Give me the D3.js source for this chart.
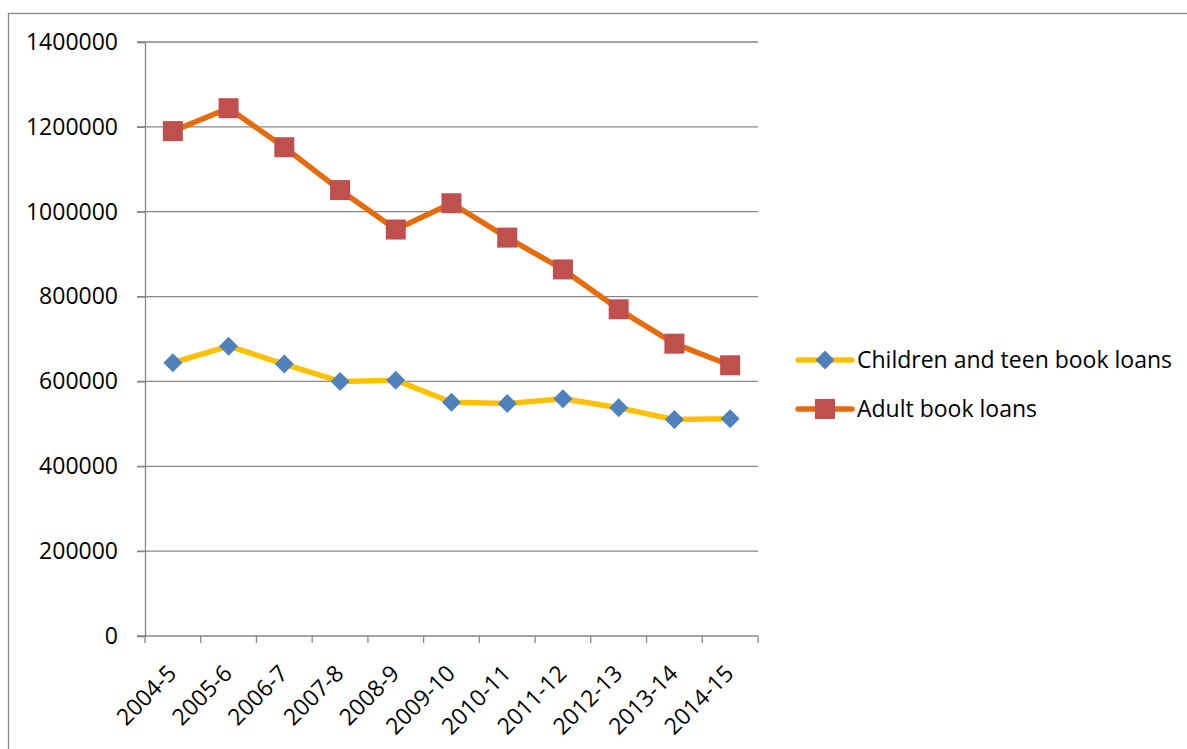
<!DOCTYPE html>
<html>
<head>
<meta charset="utf-8">
<script src="https://cdn.jsdelivr.net/npm/d3@7/dist/d3.min.js"></script>
<style>
  html, body { margin: 0; padding: 0; background: #fff; }
  svg { display: block; }
  text { font-family: "Open Sans", "Noto Sans", "Liberation Sans", sans-serif; fill: #000; }
</style>
</head>
<body>
<svg id="chart" width="1187" height="749"></svg>
<script>
// Library book loans by year
const years = ["2004-5", "2005-6", "2006-7", "2007-8", "2008-9", "2009-10",
               "2010-11", "2011-12", "2012-13", "2013-14", "2014-15"];
const childrenLoans = [644000, 683000, 641000, 600000, 603000, 551000,
                       548000, 559000, 538000, 510000, 512000];
const adultLoans = [1190000, 1244000, 1152000, 1051000, 958000, 1020000,
                    939000, 864000, 770000, 689000, 638000];
const yTicks = [0, 200000, 400000, 600000, 800000, 1000000, 1200000, 1400000];
const seriesNames = ["Children and teen book loans", "Adult book loans"];

const svg = d3.select("#chart");
const gridColor = "#878787";
const fontSize = 23;

const plot = { left: 145, right: 758, top: 42, bottom: 636 };

const x = d3.scaleBand().domain(years).range([plot.left, plot.right]).padding(0);
const y = d3.scaleLinear().domain([0, 1400000]).range([plot.bottom, plot.top]);
const cx = d => x(d) + x.bandwidth() / 2;

// outer frame (runs off the right and bottom edges)
svg.append("rect")
  .attr("x", 8.5).attr("y", 13.5)
  .attr("width", 1300).attr("height", 900)
  .attr("fill", "none").attr("stroke", gridColor).attr("stroke-width", 1.3);

// horizontal gridlines with left tick stubs
svg.append("g").selectAll("line")
  .data(yTicks.filter(t => t > 0))
  .join("line")
  .attr("x1", plot.left - 8).attr("x2", plot.right)
  .attr("y1", d => y(d)).attr("y2", d => y(d))
  .attr("stroke", gridColor).attr("stroke-width", 1.3);

// y axis
const yAxis = d3.axisLeft(y).tickValues(yTicks).tickSize(8).tickPadding(19)
  .tickFormat(d3.format("d"));
const gy = svg.append("g").attr("transform", `translate(${plot.left},0)`).call(yAxis);
gy.select(".domain").attr("stroke", gridColor).attr("stroke-width", 1.3);
gy.selectAll(".tick line").attr("stroke", gridColor).attr("stroke-width", 1.3);
gy.selectAll(".tick text").attr("font-size", fontSize)
  .attr("font-family", "'Open Sans', sans-serif").attr("fill", "#000");

// x axis line with category boundary ticks
const gx = svg.append("g");
gx.append("line")
  .attr("x1", plot.left - 8).attr("x2", plot.right)
  .attr("y1", plot.bottom).attr("y2", plot.bottom)
  .attr("stroke", gridColor).attr("stroke-width", 1.3);
const boundaries = years.map(d => x(d)).concat([x(years[years.length - 1]) + x.bandwidth()]);
gx.selectAll("line.tick")
  .data(boundaries)
  .join("line")
  .attr("class", "tick")
  .attr("x1", d => d).attr("x2", d => d)
  .attr("y1", plot.bottom).attr("y2", plot.bottom + 7)
  .attr("stroke", gridColor).attr("stroke-width", 1.3);
gx.selectAll("text")
  .data(years)
  .join("text")
  .attr("transform", d => `translate(${cx(d) + 5},${plot.bottom + 39}) rotate(-45)`)
  .attr("text-anchor", "end")
  .attr("font-size", fontSize)
  .text(d => d);

// series lines
const line = d3.line().x((d, i) => cx(years[i])).y(d => y(d));
const diamond = "M0,-9.5L9.5,0L0,9.5L-9.5,0Z";

const series = [
  { name: seriesNames[0], values: childrenLoans, lineColor: "#FFC000", markerColor: "#4F81BD", marker: "diamond" },
  { name: seriesNames[1], values: adultLoans, lineColor: "#E46C0A", markerColor: "#C0504D", marker: "square" }
];

function drawMarker(sel, s) {
  if (s.marker === "diamond") {
    sel.append("path").attr("d", diamond).attr("fill", s.markerColor);
  } else {
    sel.append("rect").attr("x", -10).attr("y", -10).attr("width", 20).attr("height", 20)
      .attr("fill", s.markerColor);
  }
}

series.forEach(s => {
  svg.append("path")
    .datum(s.values)
    .attr("d", line)
    .attr("fill", "none")
    .attr("stroke", s.lineColor)
    .attr("stroke-width", 5.5)
    .attr("stroke-linejoin", "round")
    .attr("stroke-linecap", "round");
  const g = svg.append("g");
  s.values.forEach((v, i) => {
    const m = g.append("g").attr("transform", `translate(${cx(years[i])},${y(v)})`);
    drawMarker(m, s);
  });
});

// legend
const legendRows = [360, 409];
series.forEach((s, i) => {
  const g = svg.append("g").attr("transform", `translate(0,${legendRows[i]})`);
  g.append("line").attr("x1", 798).attr("x2", 852).attr("y1", 0).attr("y2", 0)
    .attr("stroke", s.lineColor).attr("stroke-width", 5.5).attr("stroke-linecap", "round");
  const m = g.append("g").attr("transform", "translate(825,0)");
  drawMarker(m, s);
  g.append("text").attr("x", 857).attr("y", 7.5).attr("font-size", fontSize).text(s.name);
});
</script>
</body>
</html>
